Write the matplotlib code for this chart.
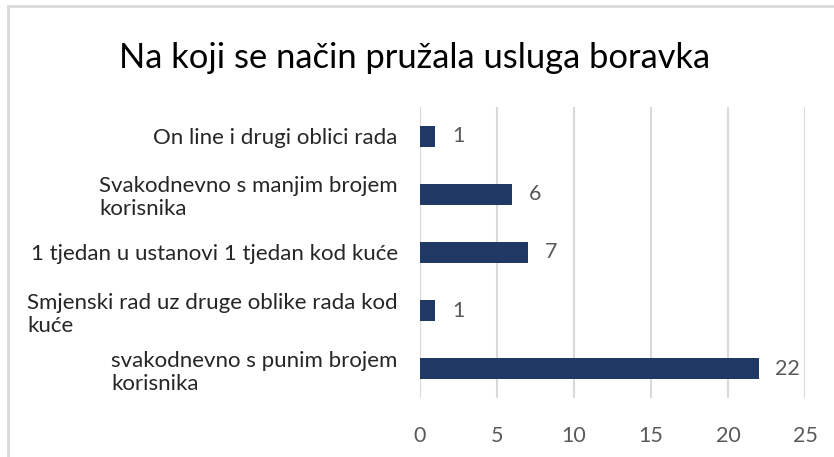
import matplotlib.pyplot as plt
from matplotlib.lines import Line2D

categories = [
    "svakodnevno s punim brojem\nkorisnika",
    "Smjenski rad uz druge oblike rada kod\nkuće",
    "1 tjedan u ustanovi 1 tjedan kod kuće",
    "Svakodnevno s manjim brojem\nkorisnika",
    "On line i drugi oblici rada",
]
values = [22, 1, 7, 6, 1]
xticks = [0, 5, 10, 15, 20, 25]
title = "Na koji se način pružala usluga boravka"

plt.rcParams['font.family'] = ['Lato', 'DejaVu Sans']

fig = plt.figure(figsize=(8.34, 4.57), dpi=100)
ax = fig.add_axes([0.5036, 0.1291, 0.4616, 0.6368])

bar_color = '#203864'
pos = range(len(categories))
ax.barh(pos, values, height=0.36, color=bar_color, zorder=3)
ax.set_ylim(-0.5, len(categories) - 0.5)
ax.set_xlim(0, 25)
ax.set_xticks(xticks)
ax.set_xticklabels([str(t) for t in xticks], fontsize=15.5, color='#595959')
ax.set_yticks(list(pos))
ax.set_yticklabels(categories, fontsize=16, color='#262626',
                   multialignment='left', linespacing=1.2)
ax.tick_params(axis='both', length=0)
ax.tick_params(axis='y', pad=16)
ax.tick_params(axis='x', pad=20)
ax.grid(axis='x', color='#d9d9d9', linewidth=1.5, zorder=0)
for s in ax.spines.values():
    s.set_visible(False)

for i, v in enumerate(values):
    ax.annotate(str(v), (v, i), xytext=(12, 0), textcoords='offset points',
                va='center', ha='left', fontsize=15.5, color='#595959')

fig.text(0.4976, 0.873, title, ha='center', va='center', fontsize=24.8,
         color='#000000')

# chart frame (top and left edges visible)
fig.add_artist(Line2D([0.009, 1.0], [0.987, 0.987], transform=fig.transFigure,
                      color='#d9d9d9', linewidth=2))
fig.add_artist(Line2D([0.009, 0.009], [0.0, 0.987], transform=fig.transFigure,
                      color='#d9d9d9', linewidth=2))

fig.savefig('out.png', dpi=100)
